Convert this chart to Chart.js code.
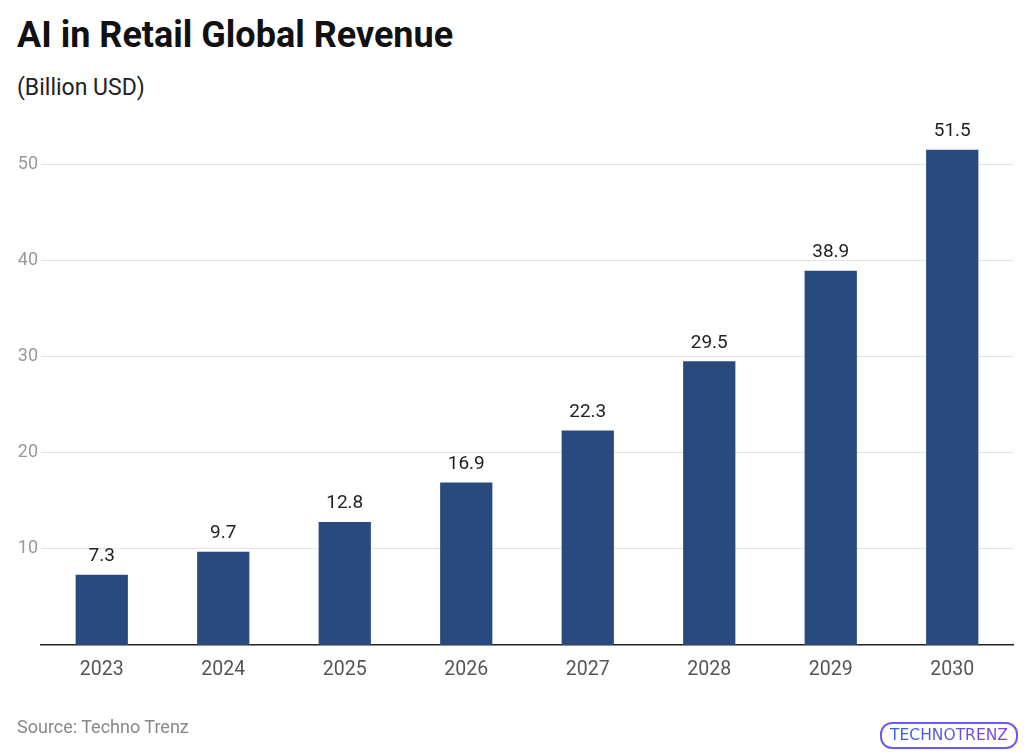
<!DOCTYPE html>
<html>
<head>
<meta charset="utf-8">
<script src="https://cdn.jsdelivr.net/npm/chart.js@4"></script>
<style>
  html, body { margin: 0; padding: 0; background: #fff; }
  body { width: 1024px; height: 755px; position: relative; overflow: hidden; font-family: Roboto, sans-serif; }
  #title { position: absolute; left: 17px; top: 14px; font-size: 36px; font-weight: bold; color: #111; }
  #subtitle { position: absolute; left: 17px; top: 74px; font-size: 23px; color: #222; }
  #source { position: absolute; left: 17px; top: 716px; font-size: 18px; color: #888; }
  #logo { position: absolute; left: 880px; top: 722px; width: 138px; height: 27px; border: 2px solid #6a5cf0; border-radius: 12px;
          box-sizing: border-box; font-family: "DejaVu Sans", sans-serif; font-size: 15.5px; line-height: 23px; text-align: center; letter-spacing: 0;
          background: linear-gradient(90deg, #2f63e0, #8b3fe0); -webkit-background-clip: text; color: transparent; }
  #wrap { position: absolute; left: 0; top: 0; width: 1024px; height: 755px; }
</style>
</head>
<body>
<div id="title">AI in Retail Global Revenue</div>
<div id="subtitle">(Billion USD)</div>
<div id="wrap"><canvas id="chart"></canvas></div>
<div id="source">Source: Techno Trenz</div>
<div id="logo">TECHNOTRENZ</div>
<script>
// data
var years = ["2023", "2024", "2025", "2026", "2027", "2028", "2029", "2030"];
var revenue = [7.3, 9.7, 12.8, 16.9, 22.3, 29.5, 38.9, 51.5];

// value labels above each bar
var valueLabels = {
  id: "valueLabels",
  afterDatasetsDraw: function (chart) {
    var ctx = chart.ctx;
    var meta = chart.getDatasetMeta(0);
    ctx.save();
    ctx.font = "19px Roboto";
    ctx.fillStyle = "#222";
    ctx.textAlign = "center";
    ctx.textBaseline = "bottom";
    meta.data.forEach(function (bar, i) {
      ctx.fillText(revenue[i], bar.x, bar.y - 9);
    });
    ctx.restore();
  }
};

var ctx = document.getElementById("chart").getContext("2d");
new Chart(ctx, {
  type: "bar",
  data: {
    labels: years,
    datasets: [{
      data: revenue,
      backgroundColor: "#284a7e",
      barPercentage: 0.43,
      categoryPercentage: 1
    }]
  },
  options: {
    responsive: true,
    maintainAspectRatio: false,
    animation: false,
    layout: { padding: { top: 116, right: 11, bottom: 80, left: 0 } },
    plugins: { legend: { display: false }, tooltip: { enabled: false } },
    scales: {
      x: {
        grid: { display: false, drawTicks: false },
        border: { color: "#222", width: 1.5 },
        ticks: { color: "#555", font: { family: "Roboto", size: 19.5 }, padding: 13 },
        afterFit: function (scale) { scale.height = 30; }
      },
      y: {
        min: 0,
        max: 55,
        grid: { color: "#e3e3e3", drawTicks: false },
        border: { display: false },
        ticks: { stepSize: 10, color: "#999", font: { family: "Roboto", size: 18 }, padding: 3 },
        afterBuildTicks: function (scale) {
          scale.ticks = scale.ticks.filter(function (t) { return t.value > 0 && t.value <= 50; });
        },
        afterFit: function (scale) { scale.width = 41; }
      }
    }
  },
  plugins: [valueLabels]
});
</script>
</body>
</html>
